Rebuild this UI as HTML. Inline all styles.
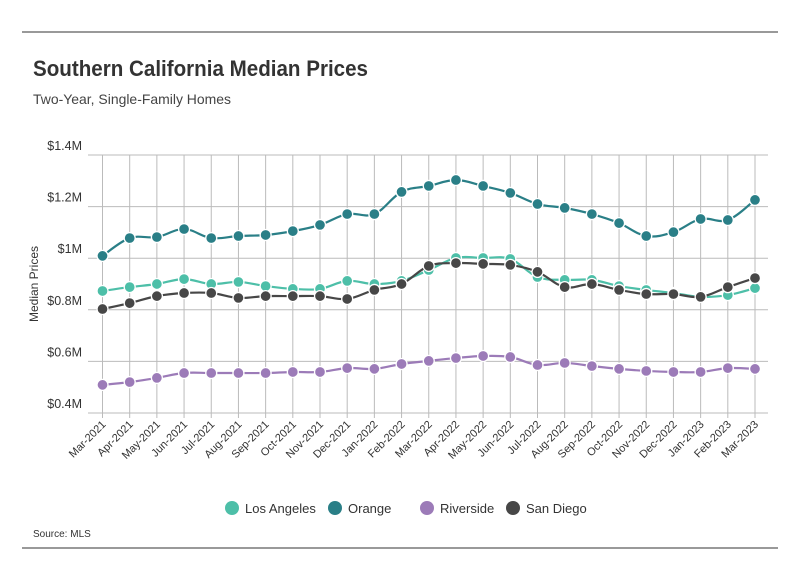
<!DOCTYPE html>
<html><head><meta charset="utf-8"><style>
body{margin:0;background:#fff;font-family:"Liberation Sans",sans-serif;}
svg text{font-family:"Liberation Sans",sans-serif;}
</style></head><body>
<svg id="c" width="800" height="575" xmlns="http://www.w3.org/2000/svg">
<line x1="22" y1="32" x2="778" y2="32" stroke="#333" stroke-width="1"/>
<line x1="22" y1="548" x2="778" y2="548" stroke="#333" stroke-width="1"/>
<text x="33" y="76" font-size="22" font-weight="bold" fill="#333" textLength="335" lengthAdjust="spacingAndGlyphs">Southern California Median Prices</text>
<text x="33" y="104" font-size="14" fill="#444" textLength="198" lengthAdjust="spacingAndGlyphs">Two-Year, Single-Family Homes</text>
<text transform="translate(38,284) rotate(-90)" text-anchor="middle" font-size="12" fill="#333">Median Prices</text>
<text x="33" y="537" font-size="10" fill="#333">Source:  MLS</text>
<g id="grid"></g><g id="series"></g><g id="xlabels"></g><g id="ylabels"></g><g id="legend"></g>
</svg>
<script>
const categories=["Mar-2021","Apr-2021","May-2021","Jun-2021","Jul-2021","Aug-2021","Sep-2021","Oct-2021","Nov-2021","Dec-2021","Jan-2022","Feb-2022","Mar-2022","Apr-2022","May-2022","Jun-2022","Jul-2022","Aug-2022","Sep-2022","Oct-2022","Nov-2022","Dec-2022","Jan-2023","Feb-2023","Mar-2023"];
const losAngeles=[0.873,0.888,0.9,0.919,0.9,0.908,0.892,0.881,0.881,0.912,0.9,0.912,0.954,1.001,1.001,0.997,0.927,0.916,0.916,0.892,0.877,0.865,0.85,0.857,0.884];
const orange=[1.009,1.078,1.082,1.113,1.078,1.086,1.09,1.105,1.129,1.171,1.171,1.257,1.28,1.303,1.28,1.253,1.21,1.195,1.171,1.136,1.086,1.101,1.152,1.148,1.226];
const riverside=[0.509,0.52,0.536,0.555,0.555,0.555,0.555,0.559,0.559,0.574,0.571,0.59,0.602,0.613,0.621,0.617,0.586,0.594,0.582,0.571,0.563,0.559,0.559,0.574,0.571];
const sanDiego=[0.803,0.826,0.853,0.865,0.865,0.846,0.853,0.853,0.853,0.842,0.877,0.9,0.97,0.981,0.978,0.974,0.947,0.888,0.9,0.877,0.861,0.861,0.85,0.888,0.923];
const yTicks=[0.4,0.6,0.8,1.0,1.2,1.4];
const yTickLabels=["$0.4M","$0.6M","$0.8M","$1M","$1.2M","$1.4M"];
const seriesNames=["Los Angeles","Orange","Riverside","San Diego"];
const seriesColors=["#4dbfa8","#2a7f87","#9c7bb8","#474747"];
const NS="http://www.w3.org/2000/svg";
const x=i=>102.5+i*(755-102.5)/(categories.length-1);
const y=v=>155+(1.4-v)*258;
function mk(tag,attrs,parent){const e=document.createElementNS(NS,tag);for(const k in attrs)e.setAttribute(k,attrs[k]);parent.appendChild(e);return e;}
const grid=document.getElementById('grid');
yTicks.forEach((t,i)=>{
 const l=mk('line',{x1:88,x2:768,y1:y(t),y2:y(t),stroke:'#bbb','stroke-width':1},grid);
 
 
 const tx=mk('text',{x:82,y:y(t)-5,'text-anchor':'end','font-size':12.5,fill:'#333'},document.getElementById('ylabels'));
 tx.textContent=yTickLabels[i];
 
 
});
categories.forEach((c,i)=>{
 const l=mk('line',{x1:x(i),x2:x(i),y1:155,y2:418,stroke:'#bbb','stroke-width':1},grid);
 
 
 const tx=mk('text',{transform:`translate(${x(i)+4},${425}) rotate(-45)`,'text-anchor':'end','font-size':11,fill:'#333'},document.getElementById('xlabels'));
 tx.textContent=c;
 
 
});
function pathD(vals){
 const p=vals.map((v,i)=>[x(i),y(v)]);let d=`M${p[0][0]},${p[0][1]}`;
 for(let i=0;i<p.length-1;i++){
  const p0=p[i-1]||p[i],p1=p[i],p2=p[i+1],p3=p[i+2]||p2,t=0.18;
  d+=` C${p1[0]+(p2[0]-p0[0])*t},${p1[1]+(p2[1]-p0[1])*t} ${p2[0]-(p3[0]-p1[0])*t},${p2[1]-(p3[1]-p1[1])*t} ${p2[0]},${p2[1]}`;
 }return d;}
const allSeries=[losAngeles,orange,riverside,sanDiego];
const sg=document.getElementById('series');
[2,1,0,3].forEach(s=>{
 const g=mk('g',{},sg);
 
 
 const p=mk('path',{d:pathD(allSeries[s]),fill:'none',stroke:seriesColors[s],'stroke-width':2.2},g);
 
 
 allSeries[s].forEach((v,i)=>{
  const c=mk('circle',{cx:x(i),cy:y(v),r:5.5,fill:seriesColors[s],stroke:'#fff','stroke-width':1.3},g);
  
  
 });
});
const lg=document.getElementById('legend');
const lx=[232,335,427,513];
seriesNames.forEach((n,i)=>{
 const g=mk('g',{},lg);
 
 
 mk('circle',{cx:lx[i],cy:508,r:7,fill:seriesColors[i]},g);
 const t=mk('text',{x:lx[i]+13,y:513,'font-size':13,fill:'#333'},g);
 t.textContent=n;
});
</script>
</body></html>
